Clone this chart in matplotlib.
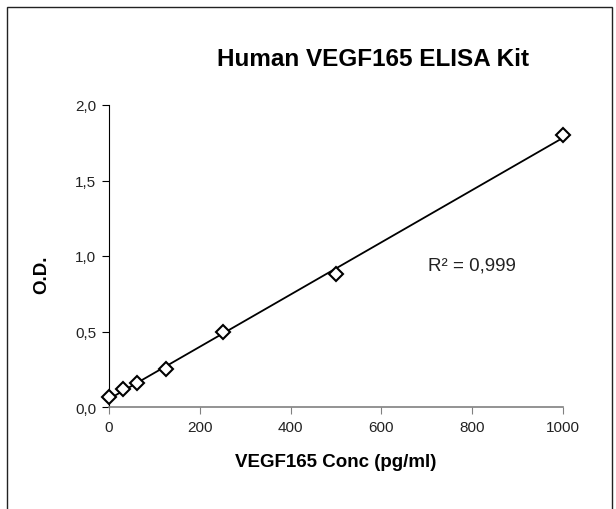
import matplotlib
matplotlib.use("Agg")
import matplotlib.pyplot as plt
import matplotlib.patches as patches
import numpy as np
from matplotlib.ticker import FuncFormatter

conc = [0, 31.25, 62.5, 125, 250, 500, 1000]
od = [0.066, 0.12, 0.16, 0.25, 0.50, 0.88, 1.80]
x_ticks = [0, 200, 400, 600, 800, 1000]
y_ticks = [0.0, 0.5, 1.0, 1.5, 2.0]
title = "Human VEGF165 ELISA Kit"
xlabel = "VEGF165 Conc (pg/ml)"
ylabel = "O.D."
r2_text = "R² = 0,999"

plt.rcParams['font.family'] = ['Liberation Sans', 'DejaVu Sans']

fig = plt.figure(figsize=(6.16, 5.10), dpi=100)
ax = fig.add_axes([109/616, 1-408/510, (563-109)/616, (408-106)/510])

# border
fig.patches.append(patches.Rectangle((7/616, -0.05), (612-7)/616, (510-8)/510 + 0.05,
                                     transform=fig.transFigure, fill=False,
                                     edgecolor='#222222', lw=1.0))

coef = np.polyfit(conc, od, 1)
xs = np.array([min(conc), max(conc)])
ax.plot(xs, np.polyval(coef, xs), color='black', lw=1.3, zorder=2, clip_on=False)
ax.plot(conc, od, linestyle='none', marker='D', markersize=7,
        markerfacecolor='white', markeredgecolor='black', markeredgewidth=1.5,
        zorder=3, clip_on=False)

ax.set_xlim(0, 1000)
ax.set_ylim(0, 2.0)
ax.set_xticks(x_ticks)
ax.set_yticks(y_ticks)
ax.yaxis.set_major_formatter(FuncFormatter(lambda v, p: f"{v:.1f}".replace('.', ',')))
for s in ['top', 'right']:
    ax.spines[s].set_visible(False)
ax.spines['left'].set_color('black')
ax.spines['bottom'].set_color('#808080')
ax.spines['bottom'].set_linewidth(1.2)
ax.tick_params(axis='both', labelsize=11, colors='#222222', length=5, direction='out')
ax.tick_params(axis='x', color='#808080', pad=4)
ax.tick_params(axis='y', color='black', pad=4)

ax.set_xlabel(xlabel, fontsize=13.5, fontweight='bold', labelpad=14)
fig.text(42/616, 1-275/510, ylabel, fontsize=13.5, fontweight='bold', rotation=90,
         ha='center', va='center')
fig.text(373/616, 1-60/510, title, fontsize=17.5, fontweight='bold', ha='center', va='center')
ax.text(428/616, 1-266/510, r2_text, fontsize=13.5, ha='left', va='center', color='#222222',
        transform=fig.transFigure)

fig.savefig("out.png", dpi=100)
